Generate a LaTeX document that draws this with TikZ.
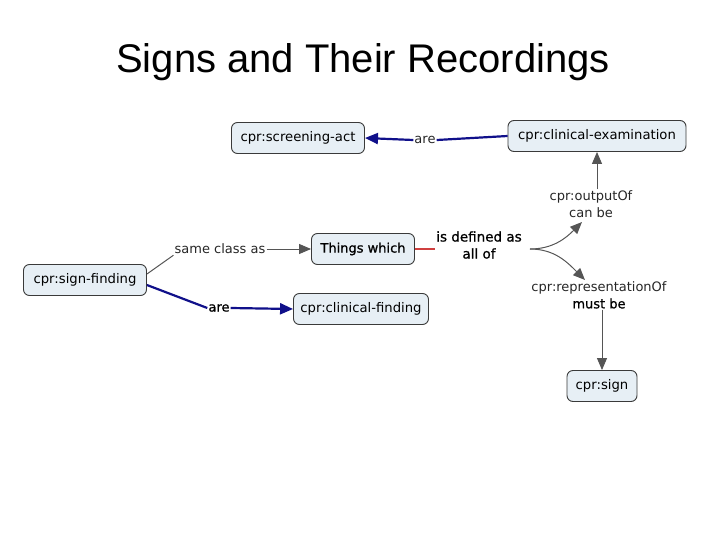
\documentclass[tikz,border=0pt]{standalone}
\usepackage{fontspec}
\setmainfont{DejaVu Sans}
\newfontfamily\titlefont{Liberation Sans}
\newfontfamily\semibold[FakeBold=0.9]{DejaVu Sans}
\usetikzlibrary{arrows.meta}
\definecolor{boxfill}{HTML}{E7EFF5}
\definecolor{boxline}{HTML}{3A3A3A}
\definecolor{linkblue}{HTML}{10108A}
\definecolor{linkgray}{HTML}{555555}
\definecolor{linkred}{HTML}{D04040}
\begin{document}
\begin{tikzpicture}[x=1pt,y=-1pt,
  concept/.style={draw=boxline, fill=boxfill, rounded corners=6pt, line width=0.9pt,
     font=\fontsize{13.2}{15}\selectfont, inner xsep=6pt, inner ysep=0pt, minimum height=31pt},
  lbl/.style={font=\fontsize{13}{17}\selectfont, text=black!85, align=center, inner sep=1pt},
  bluearrow/.style={draw=linkblue, line width=2.2pt, -{Triangle[length=13pt,width=11pt]}},
  blueline/.style={draw=linkblue, line width=2.2pt},
  grayarrow/.style={draw=linkgray, line width=1pt, -{Triangle[length=12pt,width=10pt]}},
  grayline/.style={draw=linkgray, line width=1pt}]
\useasboundingbox (0,0) rectangle (728,546);
\node[font=\titlefont\fontsize{40}{46}\selectfont] (title) at (363,62) {Signs and Their Recordings};

\node[concept, minimum width=133pt] (screen) at (298,138) {cpr:screening-act};
\node[concept, minimum width=178pt] (exam) at (597,136) {cpr:clinical-examination};
\node[concept, minimum width=103pt, font=\semibold\fontsize{13}{15}\selectfont] (things) at (363,249) {Things which};
\node[concept, minimum width=123pt] (signf) at (85,280) {cpr:sign-finding};
\node[concept, minimum width=135pt] (clinf) at (361,309) {cpr:clinical-finding};
\node[concept, minimum width=70pt] (sign) at (602,386) {cpr:sign};

\node[lbl] (are1) at (425,140) {are};
\node[lbl] (same) at (220,249) {same class as};
\node[lbl, font=\semibold\fontsize{13}{15}\selectfont, text=black] (are2) at (219,308) {are};
\node[lbl, font=\semibold\fontsize{13.5}{17}\selectfont, text=black] (defined) at (479,245) {is defined as\\all of};
\node[lbl] (output) at (591,204) {cpr:outputOf\\can be};
\node[lbl] (repr) at (599,295) {cpr:representationOf\\{\semibold\color{black}must be}};

\draw[blueline] (exam.west) -- (are1.east);
\draw[bluearrow] (are1.west) -- (screen.east);
\draw[grayarrow] (output.north -| exam.south) -- (exam.south);
\draw[draw=linkred, line width=2pt] (things.east) -- (defined.west |- things.east);
\coordinate (split) at (530,249);
\coordinate (outin) at (582,222);
\coordinate (reprin) at (585,280);
\draw[grayarrow] (split) to[out=0, in=225] (outin);
\draw[grayarrow] (split) to[out=0, in=135] (reprin);
\draw[grayarrow] (repr.south -| sign.north) -- (sign.north);
\draw[grayline] (signf.east |- 0,274) -- (same.south west);
\draw[grayarrow] (same.east) -- (things.west);
\draw[blueline] (signf.east |- 0,285) -- (are2.west);
\draw[bluearrow] (are2.east) -- (clinf.west);
\end{tikzpicture}
\end{document}
